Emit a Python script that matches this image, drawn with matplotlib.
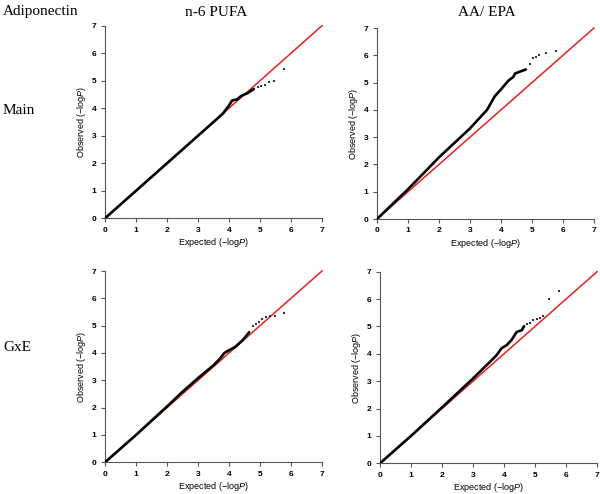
import matplotlib
matplotlib.use("Agg")
import matplotlib.pyplot as plt

plt.rcParams['font.family'] = ['Liberation Sans', 'DejaVu Sans']
plt.rcParams['mathtext.fontset'] = 'custom'
plt.rcParams['mathtext.rm'] = 'Liberation Sans'
plt.rcParams['mathtext.it'] = 'Liberation Sans:italic'

# QQ curves: (expected, observed) -log10 P
pufa_main_x = [0, 1, 2, 3, 3.5, 3.8, 4.0, 4.1, 4.25, 4.4, 4.6, 4.8]
pufa_main_y = [0, 1, 2, 3, 3.5, 3.8, 4.1, 4.28, 4.32, 4.45, 4.55, 4.7]
pufa_main_tail_x = [4.94, 5.04, 5.15, 5.29, 5.46, 5.76]
pufa_main_tail_y = [4.79, 4.82, 4.84, 4.94, 4.99, 5.41]

aaepa_main_x = [0, 1, 2, 3, 3.55, 3.8, 4.0, 4.24, 4.40, 4.45, 4.61, 4.8]
aaepa_main_y = [0, 1.09, 2.26, 3.32, 4.0, 4.5, 4.75, 5.07, 5.21, 5.33, 5.40, 5.48]
aaepa_main_tail_x = [4.94, 5.04, 5.13, 5.24, 5.46, 5.77]
aaepa_main_tail_y = [5.67, 5.89, 5.95, 6.0, 6.09, 6.17]

pufa_gxe_x = [0, 1, 2, 2.5, 3, 3.5, 3.7, 3.85, 4.0, 4.2, 4.45, 4.65]
pufa_gxe_y = [0, 1, 2.04, 2.58, 3.08, 3.55, 3.78, 4.0, 4.1, 4.22, 4.48, 4.76]
pufa_gxe_tail_x = [4.78, 4.86, 4.97, 5.08, 5.18, 5.32, 5.47, 5.77]
pufa_gxe_tail_y = [4.97, 5.07, 5.15, 5.24, 5.31, 5.37, 5.37, 5.45]

aaepa_gxe_x = [0, 1, 2, 3, 3.55, 3.76, 3.92, 4.09, 4.24, 4.41, 4.57, 4.65]
aaepa_gxe_y = [0, 1.0, 2.04, 3.1, 3.71, 3.95, 4.2, 4.32, 4.5, 4.8, 4.86, 5.01]
aaepa_gxe_tail_x = [4.73, 4.84, 4.95, 5.05, 5.16, 5.27, 5.45, 5.76]
aaepa_gxe_tail_y = [5.08, 5.13, 5.23, 5.27, 5.31, 5.38, 6.02, 6.29]

ticks = [0, 1, 2, 3, 4, 5, 6, 7]

W, H = 600, 494
fig = plt.figure(figsize=(6, 4.94), dpi=100)


def qq_panel(px0, px7, py0, py7, cx, cy, tx, ty):
    ax = fig.add_axes([px0 / W, 1 - py0 / H, (px7 - px0) / W, (py0 - py7) / H])
    ax.plot([0, 7], [0, 7], color='#e3231f', lw=1.1, clip_on=False, zorder=2)
    ax.plot(cx, cy, color='black', lw=1.9, solid_capstyle='round', zorder=3)
    ax.plot(tx, ty, 's', color='#333333', ms=1.5, mew=0, zorder=3)
    ax.set_xlim(0, 7)
    ax.set_ylim(0, 7)
    ax.set_xticks(ticks)
    ax.set_yticks(ticks)
    for s in ['top', 'right']:
        ax.spines[s].set_visible(False)
    for s in ['left', 'bottom']:
        ax.spines[s].set_color('#555555')
        ax.spines[s].set_linewidth(0.8)
    ax.tick_params(length=3, width=0.8, color='#555555', labelsize=6, pad=3)
    for lab in ax.get_xticklabels() + ax.get_yticklabels():
        lab.set_fontweight('bold')
    ax.set_xlabel(r'Expected ($-$log$\it{P}$)', fontsize=6.5, labelpad=2)
    ax.set_ylabel(r'Observed ($-$log$\it{P}$)', fontsize=6.5, labelpad=3)
    return ax


qq_panel(105, 322, 218.3, 25.7, pufa_main_x, pufa_main_y, pufa_main_tail_x, pufa_main_tail_y)
qq_panel(377, 594, 219, 28, aaepa_main_x, aaepa_main_y, aaepa_main_tail_x, aaepa_main_tail_y)
qq_panel(105, 322, 462.3, 271, pufa_gxe_x, pufa_gxe_y, pufa_gxe_tail_x, pufa_gxe_tail_y)
qq_panel(380, 597, 463.3, 271.7, aaepa_gxe_x, aaepa_gxe_y, aaepa_gxe_tail_x, aaepa_gxe_tail_y)

serif = ['Liberation Serif', 'DejaVu Serif']
fig.text(3 / W, 1 - 11 / H, 'Adiponectin', family=serif, fontsize=11, va='center', ha='left')
fig.text(216 / W, 1 - 12 / H, 'n-6 PUFA', family=serif, fontsize=11, va='center', ha='center')
fig.text(487 / W, 1 - 12 / H, 'AA/ EPA', family=serif, fontsize=11, va='center', ha='center')
fig.text(3 / W, 1 - 110 / H, 'Main', family=serif, fontsize=11, va='center', ha='left')
fig.text(3 / W, 1 - 347 / H, 'GxE', family=serif, fontsize=11, va='center', ha='left')

fig.savefig('out.png', dpi=100)
